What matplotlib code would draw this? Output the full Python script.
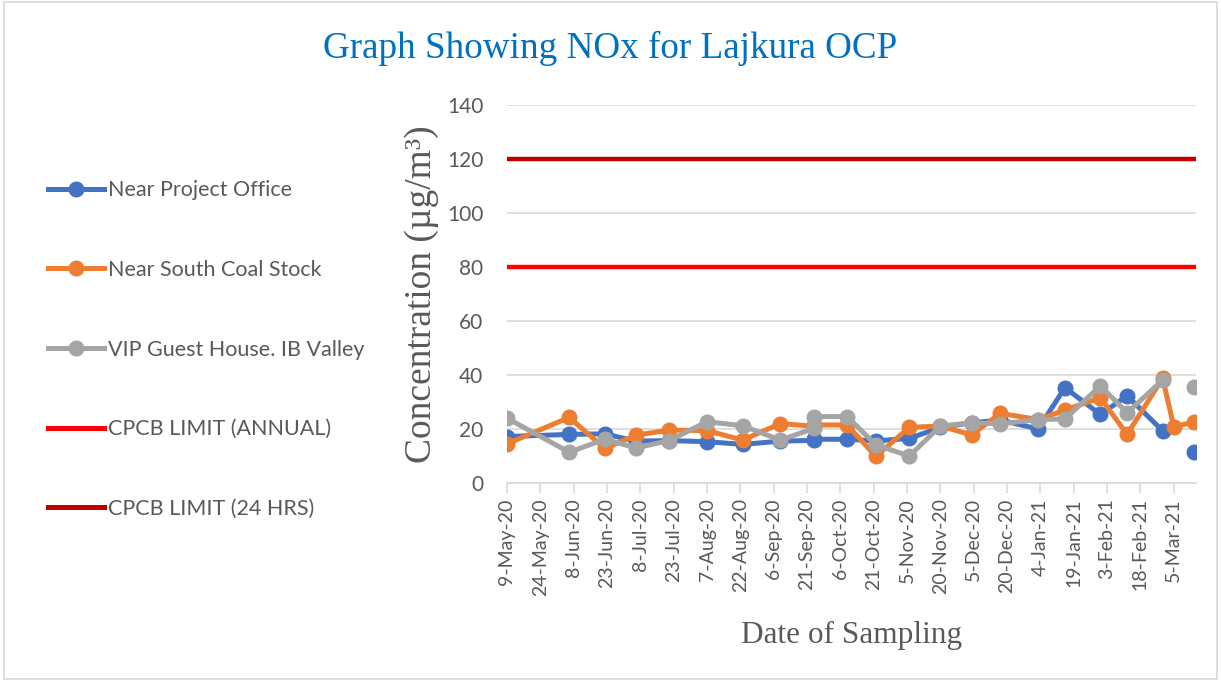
import matplotlib
matplotlib.use("Agg")
import matplotlib.pyplot as plt
from matplotlib.lines import Line2D
from matplotlib.patches import Rectangle
import numpy as np
import pandas as pd

# ---------------- data ----------------
dates = ["2020-05-09", "2020-06-06", "2020-06-22", "2020-07-06", "2020-07-21",
         "2020-08-07", "2020-08-23", "2020-09-09", "2020-09-24", "2020-09-24",
         "2020-10-09", "2020-10-22", "2020-11-06", "2020-11-20", "2020-12-04",
         "2020-12-17", "2021-01-03", "2021-01-15", "2021-01-31", "2021-02-12",
         "2021-02-28", "2021-03-05", "2021-03-14"]

near_project_office = [17.2, 18.0, 18.2, 15.5, 15.7, 15.3, 14.3, 15.5, 15.8, 16.2,
                       16.2, 15.6, 16.5, 20.6, 22.3, 23.3, 20.0, 35.3, 25.4, 32.3,
                       19.3, np.nan, 11.6]
near_south_coal_stock = [14.5, 24.3, 12.8, 17.7, 19.6, 19.4, 15.9, 22.0, 21.0, 21.5,
                         21.5, 9.9, 20.6, 21.1, 17.8, 25.8, 23.5, 27.0, 31.6, 18.0,
                         38.8, 20.9, 22.5]
vip_guest_house = [24.0, 11.4, 16.2, 13.0, 15.7, 22.7, 21.2, 15.9, 20.2, 24.6,
                   24.6, 14.1, 10.0, 21.1, 22.3, 21.9, 23.5, 23.7, 36.0, 26.0,
                   38.1, np.nan, 35.7]

cpcb_annual = 80
cpcb_24hrs = 120

series_names = ["Near Project Office", "Near South Coal Stock", "VIP Guest House. IB Valley"]
limit_names = ["CPCB LIMIT (ANNUAL)", "CPCB LIMIT (24 HRS)"]

tick_start = "2020-05-09"
tick_step_days = 15
n_ticks = 21

# ---------------- style ----------------
blue, orange, gray = "#4472C4", "#ED7D31", "#A5A5A5"
red, darkred = "#FF0000", "#C00000"
txt = "#595959"
sans = ["Lato", "DejaVu Sans"]
serif = ["Liberation Serif", "DejaVu Serif"]

x = pd.to_datetime(dates)

fig = plt.figure(figsize=(12.21, 6.80), dpi=100)
ax = fig.add_axes([507/1221, 1-483/680, (1196-507)/1221, (483-105)/680])

lw, ms = 3.6, 10.5
ax.axhline(cpcb_24hrs, color=darkred, lw=3.2, zorder=2)
ax.axhline(cpcb_annual, color=red, lw=3.2, zorder=2)
for vals, c in [(near_project_office, blue), (near_south_coal_stock, orange), (vip_guest_house, gray)]:
    ax.plot(x, vals, color=c, lw=lw, marker="o", ms=ms, zorder=3, solid_capstyle="round")

ax.set_ylim(0, 140)
ax.set_yticks(np.arange(0, 141, 20))
ax.grid(axis="y", color="#D9D9D9", lw=1.2, zorder=0)
ax.set_axisbelow(True)

t0 = pd.Timestamp(tick_start)
ticks = [t0 + pd.Timedelta(days=tick_step_days * i) for i in range(n_ticks)]
ax.set_xlim(t0, pd.Timestamp(dates[-1]) + pd.Timedelta(days=1))
ax.set_xticks(ticks)
ax.set_xticklabels([f"{t.day}-{t.strftime('%b-%y')}" for t in ticks], rotation=90,
                   fontsize=14, color=txt, family=sans)
for lab in ax.get_yticklabels():
    lab.set_fontsize(15)
    lab.set_color(txt)
    lab.set_family(sans)

for s in ["top", "right", "left"]:
    ax.spines[s].set_visible(False)
ax.spines["bottom"].set_color("#D9D9D9")
ax.spines["bottom"].set_linewidth(1.2)
ax.tick_params(axis="x", color="#D9D9D9", length=7, width=1.2, pad=4)
ax.tick_params(axis="y", length=0, pad=17)

ax.set_ylabel("Concentration (µg/m³)", fontsize=27, color=txt, family=serif, labelpad=6)
ax.set_xlabel("Date of Sampling", fontsize=22.5, color=txt, family=serif, labelpad=18)

fig.text(0.5, 1-48/680, "Graph Showing NOx for Lajkura OCP", ha="center", va="center",
         fontsize=26.7, color="#0070C0", family=serif)

handles = [Line2D([], [], color=blue, lw=lw, marker="o", ms=ms),
           Line2D([], [], color=orange, lw=lw, marker="o", ms=ms),
           Line2D([], [], color=gray, lw=lw, marker="o", ms=ms),
           Line2D([], [], color=red, lw=lw),
           Line2D([], [], color=darkred, lw=lw)]
leg = fig.legend(handles, series_names + limit_names, loc="upper left",
                 bbox_to_anchor=(29/1221, 1-161/680), frameon=False,
                 prop={"family": sans, "size": 15.5}, labelspacing=2.77,
                 handlelength=2.6, handletextpad=0.15)
for t in leg.get_texts():
    t.set_color(txt)

fig.patches.append(Rectangle((4/1221, 1/680), 1-8/1221, 1-3/680, transform=fig.transFigure,
                             fill=False, edgecolor="#D9D9D9", lw=1.2))

fig.savefig("out.png", dpi=100)
